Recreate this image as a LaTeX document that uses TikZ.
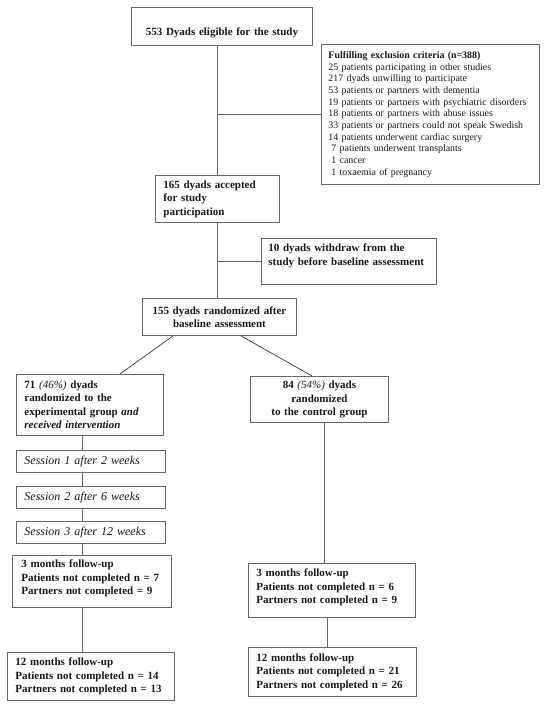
\documentclass[tikz,border=0pt]{standalone}
\usepackage{fontspec}
\setmainfont{Liberation Serif}
\begin{document}
\begin{tikzpicture}
  [x=1pt,y=-1pt,
   box/.style={draw=black!60,line width=0.9pt,anchor=north west,inner xsep=8pt,inner ysep=0pt,
     align=left,text=black!90,font=\bfseries\fontsize{11}{13.5}\selectfont},
   midbox/.style={box,align=center},
   listbox/.style={box,font=\fontsize{9.9}{11.7}\selectfont},
   sessbox/.style={box,font=\itshape\fontsize{12}{14}\selectfont},
   link/.style={draw=black!60,line width=0.9pt},
   split/.style={draw=black!85,line width=0.6pt}]
  \useasboundingbox[fill=white] (0,0) rectangle (547,708);

  % enrolment
  \node[midbox,text width=165pt,minimum height=38pt,text height=19pt,text depth=0pt] (elig) at (131,7)
    {553 Dyads eligible for the study};
  \node[listbox,text width=204pt,inner xsep=7pt,minimum height=140pt] (excl) at (321,44)
    {\textbf{Fulfilling exclusion criteria (n=388)}\\
     25 patients participating in other studies\\
     217 dyads unwilling to participate\\
     53 patients or partners with dementia\\
     19 patients or partners with psychiatric disorders\\
     18 patients or partners with abuse issues\\
     33 patients or partners could not speak Swedish\\
     14 patients underwent cardiac surgery\\
     \hspace*{3pt}7 patients underwent transplants\\
     \hspace*{3pt}1 cancer\\
     \hspace*{3pt}1 toxaemia of pregnancy};
  \node[box,text width=108pt,minimum height=47pt] (acc) at (155,175)
    {165 dyads accepted\\for study\\participation};
  \node[box,inner xsep=7pt,text width=161pt,minimum height=46pt,text depth=27pt] (wd) at (261,238)
    {10 dyads withdraw from the\\study before baseline assessment};
  \node[midbox,text width=138pt,minimum height=37pt] (rand) at (142,298)
    {155 dyads randomized after\\baseline assessment};

  % experimental arm
  \node[box,text width=131pt,minimum height=61pt] (exp) at (16,374)
    {71 {\mdseries\itshape (46\%)} dyads\\randomized to the\\experimental group \textit{and}\\\textit{received intervention}};
  \node[sessbox,text width=133pt,minimum height=22pt] (s1) at (16,450) {Session 1 after 2 weeks};
  \node[sessbox,text width=133pt,minimum height=22pt] (s2) at (16,486) {Session 2 after 6 weeks};
  \node[sessbox,text width=133pt,minimum height=22pt] (s3) at (16,521) {Session 3 after 12 weeks};
  \node[box,inner xsep=9pt,text width=141pt,minimum height=52pt,text depth=35pt] (l3) at (12,555)
    {3 months follow-up\\Patients not completed n = 7\\Partners not completed = 9};
  \node[box,text width=151pt,minimum height=48pt] (l12) at (7,652)
    {12 months follow-up\\Patients not completed n = 14\\Partners not completed n = 13};

  % control arm
  \node[midbox,text width=122pt,minimum height=46pt] (ctrl) at (250,376)
    {84 {\mdseries\itshape (54\%)} dyads\\randomized\\to the control group};
  \node[box,text width=151pt,minimum height=54pt,text depth=35pt] (r3) at (248,563)
    {3 months follow-up\\Patients not completed n = 6\\Partners not completed n = 9};
  \node[box,text width=152pt,minimum height=49pt] (r12) at (248,647)
    {12 months follow-up\\Patients not completed n = 21\\Partners not completed n = 26};

  \coordinate (lx) at (82,0);
  \coordinate (rx) at (324,0);
  \coordinate (ry) at (327,0);

  \draw[link] (acc.north |- elig.south) -- (acc.north);
  \draw[link] (excl.west -| acc.north) -- (excl.west);
  \draw[link] (acc.south) -- (acc.south |- rand.north);
  \draw[link] (wd.west -| acc.south) -- (wd.west);
  \draw[split] ([xshift=31pt]rand.south west) -- ([xshift=104pt]exp.north west);
  \draw[split] ([xshift=99pt]rand.south west) -- ([xshift=62pt]ctrl.north west);
  \foreach \from/\to in {exp/s1,s1/s2,s2/s3,s3/l3,l3/l12}
    \draw[link] (lx |- \from.south) -- (lx |- \to.north);
  \draw[link] (rx |- ctrl.south) -- (rx |- r3.north);
  \draw[link] (ry |- r3.south) -- (ry |- r12.north);
\end{tikzpicture}
\end{document}
